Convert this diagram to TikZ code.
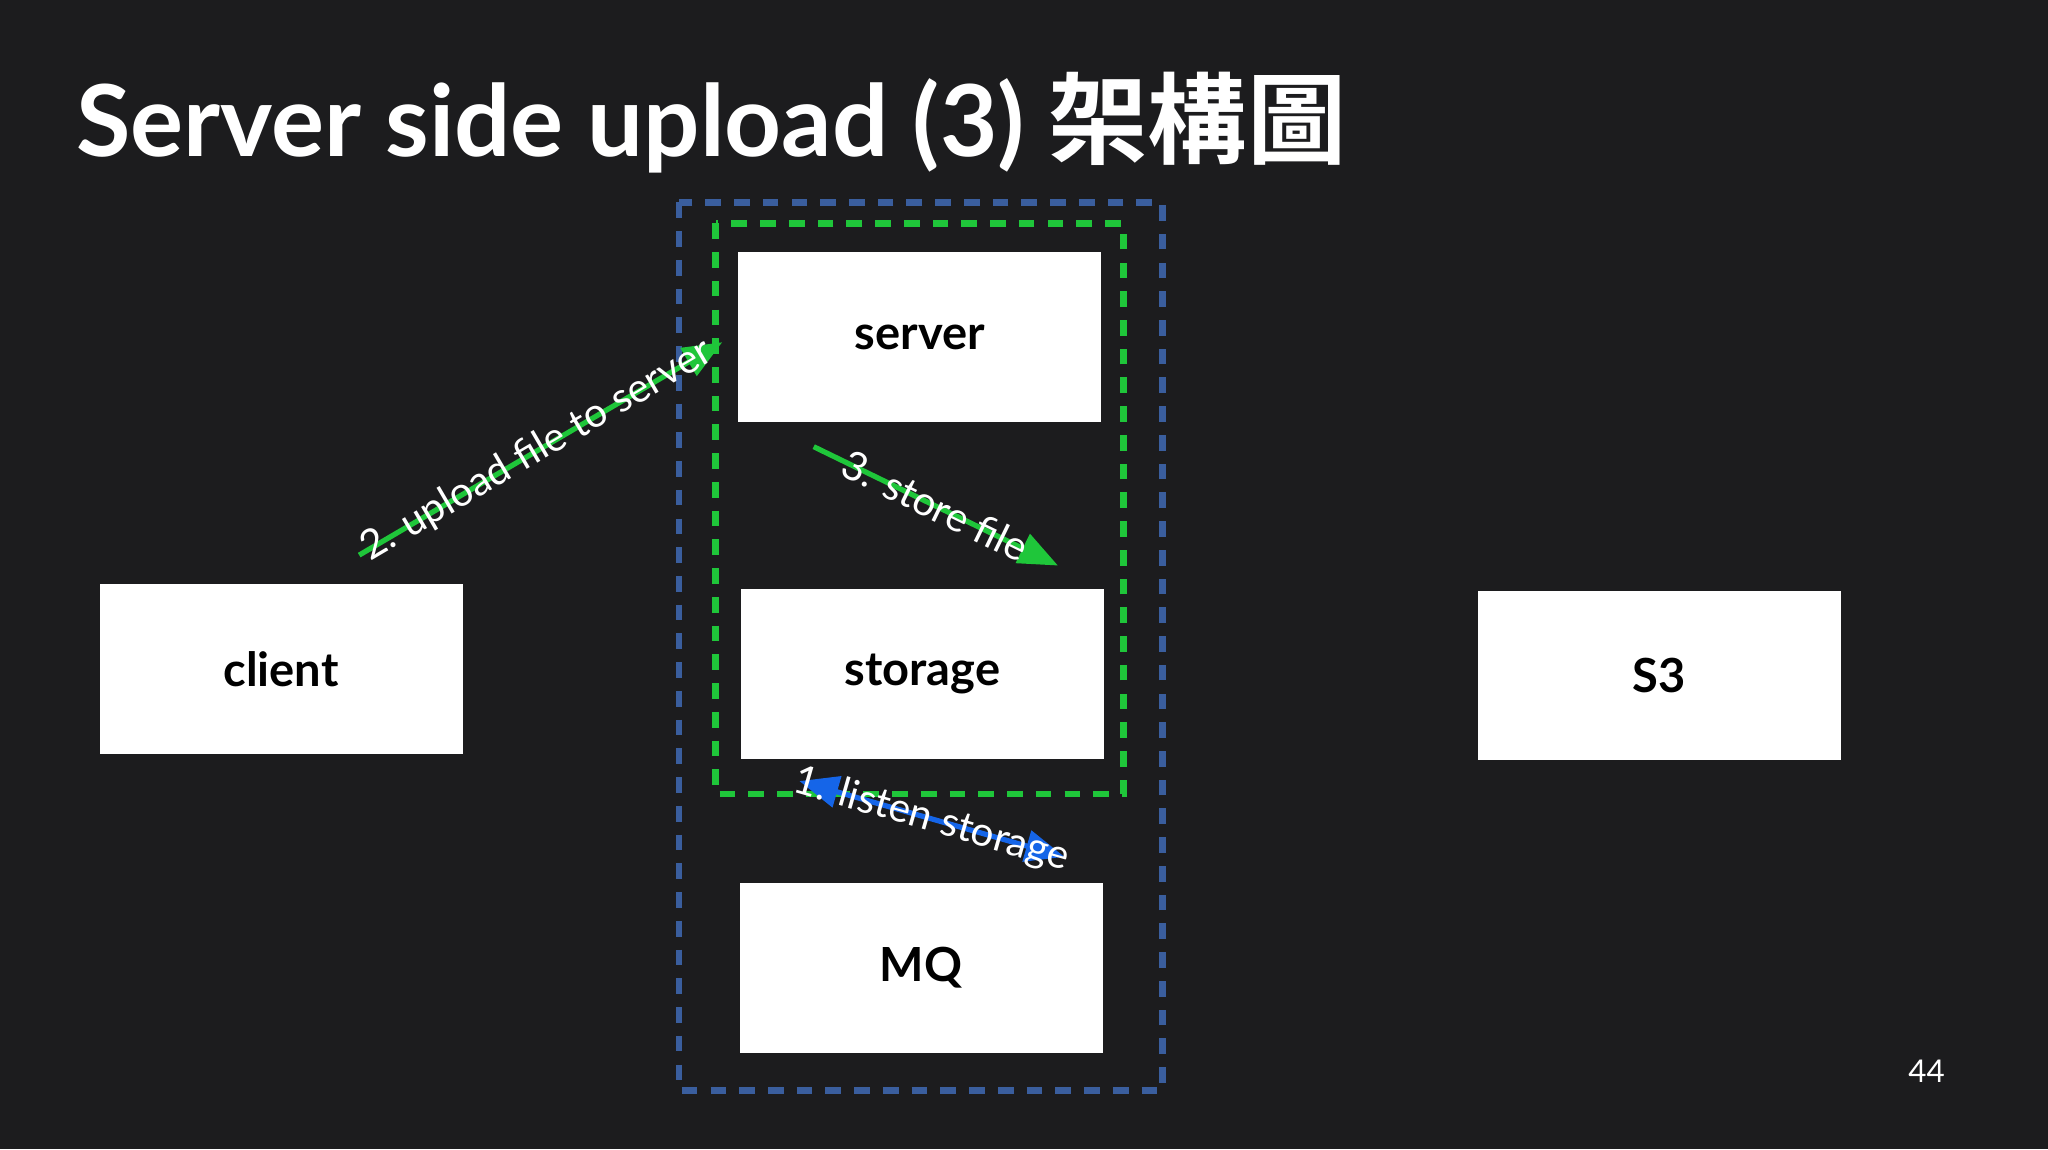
\documentclass[tikz,border=0pt]{standalone}
\usepackage{fontspec}
\setmainfont{Lato}
\newfontfamily\cjkb{Noto Sans CJK TC}[BoldFont={* Bold}]
\usetikzlibrary{arrows.meta}
\definecolor{bg}{HTML}{1C1C1E}
\definecolor{gr}{HTML}{1FC63A}
\definecolor{bl}{HTML}{3A5E9E}
\definecolor{ab}{HTML}{1565E8}
\begin{document}
\begin{tikzpicture}[x=1pt,y=-1pt,
  box/.style={fill=white,draw=none,minimum width=278pt,minimum height=130pt,anchor=north west,inner sep=0pt,font=\fontsize{36}{36}\selectfont\bfseries,text=black},
  arr/.style={line width=4pt,-{Triangle[length=30pt,width=24pt]}},
  lab/.style={text=white,font=\fontsize{31}{31}\selectfont,inner sep=0pt}]
\fill[bg] (0,0) rectangle (1568,880);
\useasboundingbox (0,0) rectangle (1568,880);
\node[anchor=base west,text=white,inner sep=0pt,font=\fontsize{76}{76}\selectfont\bfseries] (title) at (58,120) {Server side upload (3) {\cjkb\bfseries 架構圖}};
\draw[bl,line width=5pt,dash pattern=on 12pt off 10pt] (520,155) rectangle (890,835);
\draw[gr,line width=5pt,dash pattern=on 12pt off 10pt] (548,171) rectangle (860,608);
\node[box] (server) at (565,193) {server};
\node[box] (storage) at (567,451) {storage};
\node[box] (mq) at (566,676) {MQ};
\node[box] (client) at (76,447) {client};
\node[box] (s3) at (1131,452) {S3};
\coordinate (a2s) at (275,425); \coordinate (a2e) at (553,262);
\coordinate (a3s) at (623,342); \coordinate (a3e) at (810,433);
\coordinate (a1s) at (612,598); \coordinate (a1e) at (815,656);
\draw[arr,gr] (a2s) -- (a2e);
\draw[arr,gr] (a3s) -- (a3e);
\draw[ab,line width=4pt,{Triangle[length=30pt,width=24pt]}-{Triangle[length=30pt,width=24pt]}] (a1s) -- (a1e);
\node[lab,rotate=30.4] (l2) at (411,345) {2. upload file to server};
\node[lab,rotate=-26] (l3) at (716,387) {3. store file};
\node[lab,rotate=-16] (l1) at (713,628) {1. listen storage};
\node[text=white,font=\fontsize{24}{24}\selectfont,anchor=center] (pg) at (1475,820) {44};
\end{tikzpicture}
\end{document}
